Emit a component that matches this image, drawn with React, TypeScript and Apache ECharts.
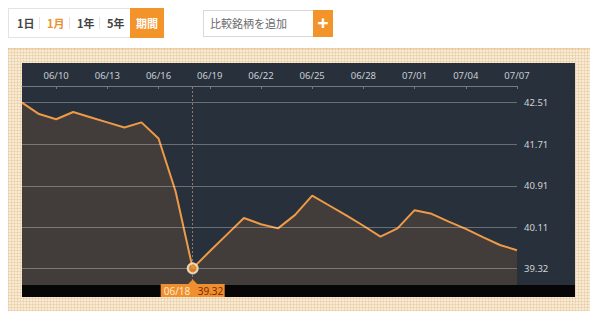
import React, { useEffect, useRef } from "react";
import * as echarts from "echarts";

const dates = [
  "06/08", "06/09", "06/10", "06/11", "06/12", "06/13", "06/14", "06/15", "06/16", "06/17",
  "06/18", "06/19", "06/20", "06/21", "06/22", "06/23", "06/24", "06/25", "06/26", "06/27",
  "06/28", "06/29", "06/30", "07/01", "07/02", "07/03", "07/04", "07/05", "07/06", "07/07",
];
const prices = [
  42.51, 42.29, 42.19, 42.33, 42.23, 42.13, 42.03, 42.13, 41.82, 40.8,
  39.32, 39.65, 39.97, 40.29, 40.17, 40.09, 40.35, 40.72, 40.53, 40.34,
  40.14, 39.93, 40.09, 40.44, 40.37, 40.22, 40.08, 39.92, 39.77, 39.67,
];
const yTicks = [42.51, 41.71, 40.91, 40.11, 39.32];
const periodLabels = ["1日", "1月", "1年", "5年"];
const periodButton = "期間";
const compareText = "比較銘柄を追加";

const ORANGE = "#f3942a";
const LABEL_FONT = "'Noto Sans', 'DejaVu Sans', sans-serif";
const CJK_FONT = "'Noto Sans CJK JP', 'Noto Sans', sans-serif";

export default function App() {
  const ref = useRef<HTMLDivElement>(null);

  useEffect(() => {
    if (!ref.current) return;
    const chart = echarts.init(ref.current, undefined, { renderer: "svg", width: 600, height: 320 });
    let minIdx = 0;
    prices.forEach((v, i) => {
      if (v < prices[minIdx]) minIdx = i;
    });
    const showIdx = (i: number) => (i - 2) % 3 === 0;

    chart.setOption({
      animation: false,
      backgroundColor: "transparent",
      grid: { left: 22, right: 83, top: 86, bottom: 35, containLabel: false },
      xAxis: {
        type: "category",
        position: "top",
        data: dates,
        boundaryGap: false,
        axisLine: { show: true, lineStyle: { color: "#737a82", width: 1 } },
        axisTick: { show: true, inside: true, length: 3, interval: (i: number) => showIdx(i), lineStyle: { color: "#737a82" } },
        axisLabel: {
          show: true,
          interval: (i: number) => showIdx(i),
          color: "#c9ced4",
          fontSize: 9.5,
          fontFamily: LABEL_FONT,
          margin: 6,
        },
        splitLine: { show: false },
      },
      yAxis: {
        type: "value",
        min: 39.0,
        max: 42.83,
        show: false,
        splitLine: { show: false },
      },
      series: [
        {
          type: "line",
          data: prices,
          symbol: "none",
          lineStyle: { color: "#ee9a46", width: 2 },
          areaStyle: { color: "rgba(232,145,58,0.2)", origin: "start" },
          z: 2,
          markLine: {
            silent: true,
            symbol: ["none", "none"],
            animation: false,
            lineStyle: { color: "rgba(255,255,255,0.3)", type: "solid", width: 1 },
            label: {
              show: true,
              position: "end",
              distance: 7,
              color: "#cfd3d8",
              fontSize: 9.5,
              fontFamily: LABEL_FONT,
            },
            data: [
              ...yTicks.map((v) => ({ yAxis: v, label: { formatter: v.toFixed(2) } })),
              {
                xAxis: dates[minIdx],
                lineStyle: { color: "#8e7a66", type: [2, 2], width: 1 },
                label: { show: false },
              },
            ],
          },
        },
        {
          type: "scatter",
          data: [[dates[minIdx], prices[minIdx]]],
          symbol: "circle",
          symbolSize: 10,
          itemStyle: { color: "#f0922e", borderColor: "#fff1dc", borderWidth: 2 },
          z: 5,
          silent: true,
        },
      ],
    });

    const [px] = chart.convertToPixel({ seriesIndex: 0 }, [minIdx, prices[minIdx]]) as number[];
    chart.setOption({
      graphic: [
        { type: "rect", z: -10, silent: true, shape: { x: 22, y: 63, width: 553, height: 222 }, style: { fill: "#27303b" } },
        { type: "rect", z: -10, silent: true, shape: { x: 22, y: 285, width: 553, height: 12 }, style: { fill: "#060606" } },
        { type: "rect", z: 20, silent: true, shape: { x: px - 32, y: 284, width: 64, height: 13 }, style: { fill: "#ef8f2e" } },
        {
          type: "polygon",
          z: 20,
          silent: true,
          shape: { points: [[px - 5, 284.5], [px + 5, 284.5], [px, 279.5]] },
          style: { fill: "#ef8f2e" },
        },
        {
          type: "text",
          z: 21,
          silent: true,
          x: px - 29,
          y: 291,
          style: { text: dates[minIdx], fill: "#ffe9cc", font: `10px ${LABEL_FONT}`, verticalAlign: "middle", align: "left" },
        },
        {
          type: "text",
          z: 21,
          silent: true,
          x: px + 5,
          y: 291,
          style: { text: prices[minIdx].toFixed(2), fill: "#7a2a0a", font: `10px ${LABEL_FONT}`, verticalAlign: "middle", align: "left" },
        },
      ],
    });

    return () => chart.dispose();
  }, []);

  const sepXs = [39, 69, 99];
  const labelXs = [17, 47, 77, 107];

  return (
    <div style={{ position: "fixed", left: 0, top: 0, width: 600, height: 320, background: "#ffffff", overflow: "hidden" }}>
      {/* period selector */}
      <div
        style={{
          position: "absolute",
          left: 8,
          top: 8,
          width: 156,
          height: 30,
          border: "1px solid #e3e3e3",
          boxSizing: "border-box",
        }}
      />
      {periodLabels.map((t, i) => (
        <div
          key={t}
          style={{
            position: "absolute",
            left: labelXs[i],
            top: 15,
            fontFamily: CJK_FONT,
            fontSize: 11,
            fontWeight: 700,
            lineHeight: "16px",
            color: i === 1 ? "#e8912f" : "#444444",
          }}
        >
          {t}
        </div>
      ))}
      {sepXs.map((x) => (
        <div key={x} style={{ position: "absolute", left: x, top: 17, width: 1, height: 12, background: "#e4e4e4" }} />
      ))}
      <div
        style={{
          position: "absolute",
          left: 130,
          top: 8,
          width: 34,
          height: 30,
          background: ORANGE,
          color: "#ffffff",
          fontFamily: CJK_FONT,
          fontSize: 11,
          fontWeight: 700,
          lineHeight: "30px",
          textAlign: "center",
        }}
      >
        {periodButton}
      </div>
      {/* compare box */}
      <div
        style={{
          position: "absolute",
          left: 203,
          top: 10,
          width: 111,
          height: 27,
          border: "1px solid #d9d9d9",
          boxSizing: "border-box",
        }}
      />
      <div
        style={{
          position: "absolute",
          left: 210,
          top: 15,
          fontFamily: CJK_FONT,
          fontSize: 11,
          lineHeight: "16px",
          color: "#6a6a6a",
        }}
      >
        {compareText}
      </div>
      <div
        style={{
          position: "absolute",
          left: 313,
          top: 10,
          width: 20,
          height: 27,
          background: ORANGE,
          color: "#ffffff",
          fontFamily: LABEL_FONT,
          fontSize: 20,
          fontWeight: 700,
          lineHeight: "26px",
          textAlign: "center",
        }}
      >
        +
      </div>
      {/* beige panel */}
      <div
        style={{
          position: "absolute",
          left: 8,
          top: 48,
          width: 582,
          height: 263,
          borderTop: "1px dotted #f0c68e",
          boxSizing: "border-box",
          backgroundColor: "#f8ead3",
          backgroundImage:
            "repeating-linear-gradient(0deg, rgba(222,186,136,0.35) 0px, rgba(222,186,136,0.35) 1px, transparent 1px, transparent 3px), repeating-linear-gradient(90deg, rgba(222,186,136,0.35) 0px, rgba(222,186,136,0.35) 1px, transparent 1px, transparent 3px)",
        }}
      />
      <div ref={ref} style={{ position: "absolute", left: 0, top: 0, width: 600, height: 320 }} />
    </div>
  );
}
